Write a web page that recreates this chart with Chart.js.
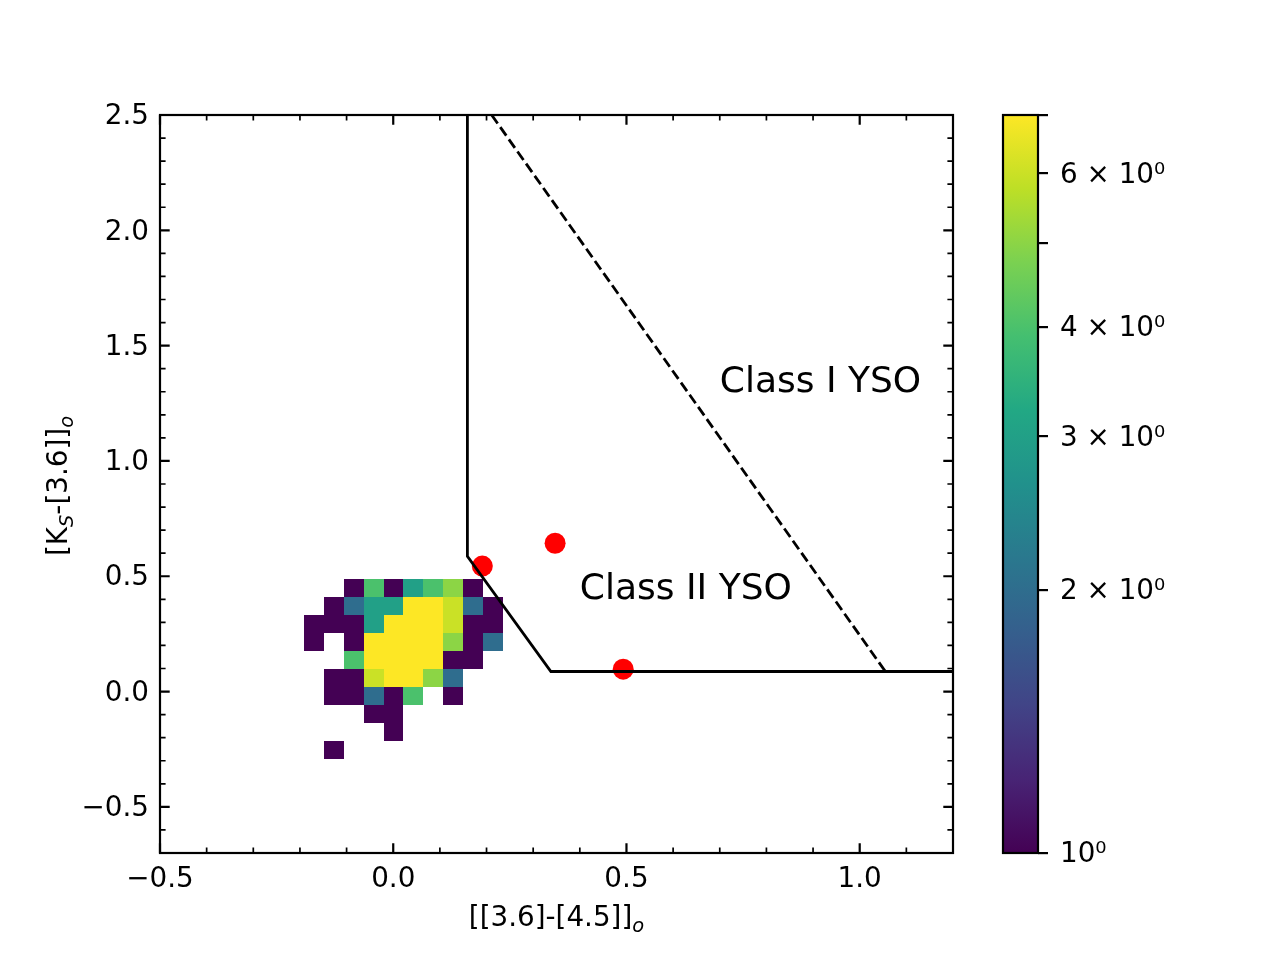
<!DOCTYPE html>
<html>
<head>
<meta charset="utf-8">
<script src="https://cdn.jsdelivr.net/npm/chart.js@4.4.0/dist/chart.umd.min.js"></script>
<style>
  html, body { margin: 0; padding: 0; background: #fff; }
  #wrap { position: relative; width: 1280px; height: 960px; }
  canvas { position: absolute; left: 0; top: 0; }
</style>
</head>
<body>
<div id="wrap">
  <canvas id="cbar" width="1280" height="960"></canvas>
  <canvas id="main" width="1280" height="960"></canvas>
</div>
<script>
// 2d histogram: bin edges and counts (rows top -> bottom, cols left -> right, 0 = empty)
const xBinEdges = [-0.191, -0.149, -0.106, -0.063, -0.020, 0.021, 0.064, 0.106, 0.149, 0.192, 0.235];
const yBinEdges = [0.487, 0.409, 0.331, 0.253, 0.176, 0.098, 0.020, -0.058, -0.136, -0.214, -0.292];
const histCounts = [
  [0, 0, 1, 4, 1, 3, 4, 5, 1, 0],
  [0, 1, 2, 3, 3, 7, 7, 6, 2, 1],
  [1, 1, 1, 3, 7, 7, 7, 6, 1, 1],
  [1, 0, 1, 7, 7, 7, 7, 5, 1, 2],
  [0, 0, 4, 7, 7, 7, 7, 1, 1, 0],
  [0, 1, 1, 6, 7, 7, 5, 2, 0, 0],
  [0, 1, 1, 2, 1, 4, 0, 1, 0, 0],
  [0, 0, 0, 1, 1, 0, 0, 0, 0, 0],
  [0, 0, 0, 0, 1, 0, 0, 0, 0, 0],
  [0, 1, 0, 0, 0, 0, 0, 0, 0, 0]
];

// YSO candidates (red points)
const ysoX = [0.191, 0.347, 0.493];
const ysoY = [0.544, 0.643, 0.097];

// class boundaries
const classIIBoundaryX = [0.159, 0.159, 0.338, 1.2];
const classIIBoundaryY = [2.5, 0.586, 0.087, 0.087];
const classIBoundaryX = [0.211, 1.054];
const classIBoundaryY = [2.5, 0.09];

// region labels
const regionLabels = ['Class I YSO', 'Class II YSO'];
const regionLabelX = [0.7, 0.4];
const regionLabelY = [1.3, 0.4];

// axes
const xTicks = [-0.5, 0.0, 0.5, 1.0];
const yTicks = [-0.5, 0.0, 0.5, 1.0, 1.5, 2.0, 2.5];
const cbMin = 1, cbMax = 7;
const cbTickValues = [1, 2, 3, 4, 5, 6, 7];
const cbTickLabels = ['10\u2070', '2 \u00d7 10\u2070', '3 \u00d7 10\u2070', '4 \u00d7 10\u2070', '', '6 \u00d7 10\u2070', ''];

const FONT = '"DejaVu Sans"';
const FS = 27.8;
Chart.defaults.font.family = FONT;
Chart.defaults.color = '#000';

const viridisStops = ['#440154', '#482475', '#414487', '#355f8d', '#2a788e', '#21918c',
                      '#22a884', '#44bf70', '#7ad151', '#bddf26', '#fde725'];
function hexRgb(h) {
  return [1, 3, 5].map(i => parseInt(h.slice(i, i + 2), 16));
}
function viridis(t) {
  t = Math.min(1, Math.max(0, t));
  const p = t * (viridisStops.length - 1);
  const i = Math.min(Math.floor(p), viridisStops.length - 2), f = p - i;
  const a = hexRgb(viridisStops[i]), b = hexRgb(viridisStops[i + 1]);
  return 'rgb(' + a.map((v, k) => Math.round(v + (b[k] - v) * f)).join(',') + ')';
}
function fmtTick(v) {
  const s = Math.abs(v).toFixed(1);
  return v < 0 ? '\u2212' + s : s;
}

// text with subscripts, centred on cx, baseline at y
function drawRich(ctx, parts, cx, y) {
  const fontOf = p => p.sub ? `italic ${FS * 0.7}px ${FONT}` : `${FS}px ${FONT}`;
  const widths = parts.map(p => { ctx.font = fontOf(p); return ctx.measureText(p.t).width; });
  let x = cx - widths.reduce((s, w) => s + w, 0) / 2;
  ctx.textAlign = 'left';
  ctx.textBaseline = 'alphabetic';
  parts.forEach((p, i) => {
    ctx.font = fontOf(p);
    ctx.fillText(p.t, x, y + (p.sub ? 5.5 : 0));
    x += widths[i];
  });
}

const histPlugin = {
  id: 'hist2d',
  beforeDatasetsDraw(chart) {
    const { ctx, chartArea: a, scales: { x, y } } = chart;
    ctx.save();
    ctx.beginPath();
    ctx.rect(a.left, a.top, a.width, a.height);
    ctx.clip();
    histCounts.forEach((row, r) => row.forEach((n, c) => {
      if (!n) return;
      const x0 = Math.round(x.getPixelForValue(xBinEdges[c]));
      const x1 = Math.round(x.getPixelForValue(xBinEdges[c + 1]));
      const y0 = Math.round(y.getPixelForValue(yBinEdges[r]));
      const y1 = Math.round(y.getPixelForValue(yBinEdges[r + 1]));
      ctx.fillStyle = viridis(Math.log(n) / Math.log(cbMax));
      ctx.fillRect(x0, y0, x1 - x0, y1 - y0);
    }));
    ctx.restore();
  }
};

const framePlugin = {
  id: 'frame',
  afterDraw(chart) {
    const { ctx, chartArea: a, scales: { x, y } } = chart;
    ctx.save();
    ctx.strokeStyle = '#000';
    // inward ticks on all four sides
    const tick = (v, isX, len, lw) => {
      ctx.lineWidth = lw;
      ctx.beginPath();
      if (isX) {
        const p = x.getPixelForValue(v);
        ctx.moveTo(p, a.bottom); ctx.lineTo(p, a.bottom - len);
        ctx.moveTo(p, a.top); ctx.lineTo(p, a.top + len);
      } else {
        const p = y.getPixelForValue(v);
        ctx.moveTo(a.left, p); ctx.lineTo(a.left + len, p);
        ctx.moveTo(a.right, p); ctx.lineTo(a.right - len, p);
      }
      ctx.stroke();
    };
    for (let k = -5; k <= 12; k++) if (k % 5) tick(k / 10, true, 5.6, 1.7);
    for (let k = -7; k <= 25; k++) if (k % 5) tick(k / 10, false, 5.6, 1.7);
    xTicks.forEach(v => tick(v, true, 9.7, 2.2));
    yTicks.forEach(v => tick(v, false, 9.7, 2.2));
    ctx.lineWidth = 2.2;
    ctx.strokeRect(a.left, a.top, a.width, a.height);

    // region labels
    ctx.fillStyle = '#000';
    ctx.font = `36px ${FONT}`;
    ctx.textAlign = 'left';
    ctx.textBaseline = 'alphabetic';
    regionLabels.forEach((t, i) => {
      ctx.fillText(t, x.getPixelForValue(regionLabelX[i]), y.getPixelForValue(regionLabelY[i]));
    });

    // axis titles
    drawRich(ctx, [{ t: '[[3.6]-[4.5]]' }, { t: 'o', sub: true }], (a.left + a.right) / 2, 926);
    ctx.translate(67, 486);
    ctx.rotate(-Math.PI / 2);
    drawRich(ctx, [{ t: '[K' }, { t: 'S', sub: true }, { t: '-[3.6]]' }, { t: 'o', sub: true }], 0, 0);
    ctx.restore();
  }
};

const toPoints = (xs, ys) => xs.map((v, i) => ({ x: v, y: ys[i] }));

new Chart(document.getElementById('main'), {
  type: 'scatter',
  data: {
    datasets: [
      {
        label: 'Class II boundary',
        data: toPoints(classIIBoundaryX, classIIBoundaryY),
        showLine: true, borderColor: '#000', borderWidth: 2.8, pointRadius: 0, order: 0
      },
      {
        label: 'Class I boundary',
        data: toPoints(classIBoundaryX, classIBoundaryY),
        showLine: true, borderColor: '#000', borderWidth: 2.8, borderDash: [10.4, 4.5],
        pointRadius: 0, order: 0
      },
      {
        label: 'YSO',
        data: toPoints(ysoX, ysoY),
        pointRadius: 10.5, pointBackgroundColor: '#ff0000', pointBorderWidth: 0, order: 1
      }
    ]
  },
  options: {
    responsive: false,
    devicePixelRatio: 1,
    animation: false,
    layout: { padding: { left: 0, top: 115, right: 327, bottom: 0 } },
    plugins: { legend: { display: false }, tooltip: { enabled: false } },
    scales: {
      x: {
        type: 'linear', min: -0.5, max: 1.2,
        grid: { display: false, drawTicks: false },
        border: { display: false },
        afterBuildTicks: s => { s.ticks = xTicks.map(v => ({ value: v })); },
        afterFit: s => { s.height = 107; },
        ticks: { autoSkip: false, maxRotation: 0, padding: 10, font: { size: FS }, callback: v => fmtTick(v) }
      },
      y: {
        type: 'linear', min: -0.7, max: 2.5,
        grid: { display: false, drawTicks: false },
        border: { display: false },
        afterBuildTicks: s => { s.ticks = yTicks.map(v => ({ value: v })); },
        afterFit: s => { s.width = 160; },
        ticks: { autoSkip: false, padding: 11, labelOffset: 2, font: { size: FS }, callback: v => fmtTick(v) }
      }
    }
  },
  plugins: [histPlugin, framePlugin]
});

const cbarPlugin = {
  id: 'cbarFill',
  beforeDatasetsDraw(chart) {
    const { ctx, chartArea: a, scales: { y } } = chart;
    const y0 = y.getPixelForValue(cbMin), y1 = y.getPixelForValue(cbMax);
    const g = ctx.createLinearGradient(0, y0, 0, y1);
    viridisStops.forEach((c, i) => g.addColorStop(i / (viridisStops.length - 1), c));
    ctx.save();
    ctx.fillStyle = g;
    ctx.fillRect(a.left, y1, a.width, y0 - y1);
    ctx.restore();
  },
  afterDraw(chart) {
    const { ctx, chartArea: a } = chart;
    ctx.save();
    ctx.strokeStyle = '#000';
    ctx.lineWidth = 2.2;
    ctx.strokeRect(a.left, a.top, a.width, a.height);
    ctx.restore();
  }
};

new Chart(document.getElementById('cbar'), {
  type: 'scatter',
  data: { datasets: [] },
  options: {
    responsive: false,
    devicePixelRatio: 1,
    animation: false,
    layout: { padding: { left: 1003, top: 115, right: 0, bottom: 107 } },
    plugins: { legend: { display: false }, tooltip: { enabled: false } },
    scales: {
      x: { display: false, min: 0, max: 1 },
      y: {
        type: 'logarithmic', position: 'right', min: cbMin, max: cbMax,
        afterBuildTicks: s => { s.ticks = cbTickValues.map(v => ({ value: v })); },
        afterFit: s => { s.width = 242; },
        grid: { drawOnChartArea: false, drawTicks: true, tickLength: 10, lineWidth: 2.2, color: '#000' },
        border: { display: false },
        ticks: {
          autoSkip: false, padding: 12, labelOffset: 2, font: { size: FS },
          callback: v => cbTickLabels[cbTickValues.indexOf(v)]
        }
      }
    }
  },
  plugins: [cbarPlugin]
});
</script>
</body>
</html>
